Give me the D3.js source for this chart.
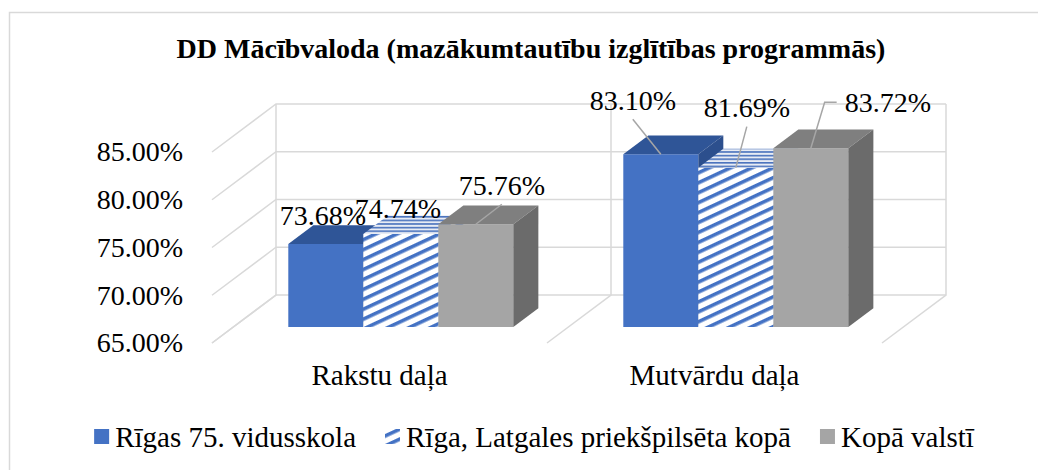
<!DOCTYPE html>
<html>
<head>
<meta charset="utf-8">
<script src="https://cdn.jsdelivr.net/npm/d3@7"></script>
<style>
  body { margin: 0; background: #fff; }
  svg { display: block; font-family: "Liberation Serif", "Times New Roman", serif; }
</style>
</head>
<body>
<div id="chart"></div>
<script>
// Data
const categories = ['Rakstu daļa', 'Mutvārdu daļa'];
const seriesNames = ['Rīgas 75. vidusskola', 'Rīga, Latgales priekšpilsēta kopā', 'Kopā valstī'];
const schoolValues = [73.68, 83.10];
const rigaValues = [74.74, 81.69];
const countryValues = [75.76, 83.72];
const tickValues = [65, 70, 75, 80, 85];
const title = 'DD Mācībvaloda (mazākumtautību izglītības programmās)';

// Chart dimensions
const WIDTH = 1038, HEIGHT = 470;
const DX = 64, DY = -48;           // depth vector of the 3D box
const D1 = 0.333, D2 = 0.724;      // bar front/back depth

// label placement (offset from bar top front centre) and leader line style
const labelOffsets = [
  [[-3, -29], [-3, -26], [26, -39]],
  [[-28, -54], [11, -60], [77, -46]]
];
const leaders = [
  ['none', 'none', 'bottom'],
  ['bottom', 'bottom', 'left']
];

const series = [schoolValues, rigaValues, countryValues];

const svg = d3.select('#chart').append('svg')
  .attr('width', WIDTH)
  .attr('height', HEIGHT);

// patterns
const defs = svg.append('defs');
defs.append('pattern')
  .attr('id', 'stripes')
  .attr('patternUnits', 'userSpaceOnUse')
  .attr('width', 9).attr('height', 9)
  .attr('patternTransform', 'rotate(-25)')
  .call(p => {
    p.append('rect').attr('width', 9).attr('height', 9).attr('fill', '#fff');
    p.append('rect').attr('width', 9).attr('height', 3.6).attr('fill', '#4472C4');
  });
defs.append('pattern')
  .attr('id', 'stripesTop')
  .attr('patternUnits', 'userSpaceOnUse')
  .attr('width', 8).attr('height', 3.6)
  .call(p => {
    p.append('rect').attr('width', 8).attr('height', 3.6).attr('fill', '#e8ecf4');
    p.append('rect').attr('width', 8).attr('height', 1.6).attr('fill', '#4a72bd');
  });

const fills = [
  { front: '#4472C4', top: '#2F5597', side: '#2C4F8D' },
  { front: 'url(#stripes)', top: 'url(#stripesTop)', side: 'url(#stripes)' },
  { front: '#A5A5A5', top: '#7F7F7F', side: '#6B6B6B' }
];

// outer border (right and bottom are cropped)
svg.append('rect')
  .attr('x', 9.5).attr('y', 12.5)
  .attr('width', WIDTH + 20).attr('height', HEIGHT + 20)
  .attr('fill', 'none')
  .attr('stroke', '#D9D9D9')
  .attr('stroke-width', 1.5);

// title
svg.append('text')
  .attr('x', 531).attr('y', 58)
  .attr('text-anchor', 'middle')
  .attr('font-size', 28)
  .attr('font-weight', 'bold')
  .text(title);

// scales
const y = d3.scaleLinear().domain([65, 85]).range([343, 152]);
const x0 = d3.scaleBand().domain(categories).range([212, 882]);
const x1 = d3.scaleBand().domain(d3.range(series.length))
  .range([0, x0.bandwidth()])
  .paddingInner(0)
  .paddingOuter(0.733);

const proj = (x, yy, d) => [x + d * DX, yy + d * DY];
const pts = arr => arr.map(p => p.join(',')).join(' ');

// gridlines
const grid = svg.append('g')
  .attr('stroke', '#D9D9D9')
  .attr('stroke-width', 1.5)
  .attr('fill', 'none');

const xLeft = x0.range()[0], xRight = x0.range()[1];
tickValues.forEach(v => {
  const a = proj(xLeft, y(v), 0), b = proj(xLeft, y(v), 1), c = proj(xRight, y(v), 1);
  grid.append('polyline').attr('points', pts([a, b, c]));
});
const bounds = categories.map(c => x0(c)).concat([xRight]);
bounds.forEach(bx => {
  const f = proj(bx, y(65), 0), b = proj(bx, y(65), 1), t = proj(bx, y(85), 1);
  grid.append('polyline').attr('points', pts([f, b, t]));
});

// bars
const bars = svg.append('g');
categories.forEach((cat, ci) => {
  series.forEach((vals, si) => {
    const v = vals[ci];
    const xa = x0(cat) + x1(si), xb = xa + x1.bandwidth();
    const yt = y(v), yb = y(65);
    const f = fills[si];
    bars.append('polygon')
      .attr('points', pts([proj(xa, yt, D1), proj(xb, yt, D1), proj(xb, yb, D1), proj(xa, yb, D1)]))
      .attr('fill', f.front);
    bars.append('polygon')
      .attr('points', pts([proj(xa, yt, D1), proj(xb, yt, D1), proj(xb, yt, D2), proj(xa, yt, D2)]))
      .attr('fill', f.top);
    bars.append('polygon')
      .attr('points', pts([proj(xb, yt, D1), proj(xb, yb, D1), proj(xb, yb, D2), proj(xb, yt, D2)]))
      .attr('fill', f.side);
  });
});

// data labels
const labels = svg.append('g').attr('font-size', 28);
categories.forEach((cat, ci) => {
  series.forEach((vals, si) => {
    const v = vals[ci];
    const xc = x0(cat) + x1(si) + x1.bandwidth() / 2;
    const anchor = proj(xc, y(v), D1);
    const off = labelOffsets[ci][si];
    const lx = anchor[0] + off[0], ly = anchor[1] + off[1];
    const t = labels.append('text')
      .attr('x', lx).attr('y', ly)
      .attr('dy', '0.35em')
      .attr('text-anchor', 'middle')
      .attr('fill', '#000')
      .text(v.toFixed(2) + '%');
    const kind = leaders[ci][si];
    if (kind === 'bottom') {
      labels.append('line')
        .attr('x1', anchor[0]).attr('y1', anchor[1])
        .attr('x2', lx).attr('y2', ly + 19)
        .attr('stroke', '#A6A6A6').attr('stroke-width', 1.5);
    } else if (kind === 'left') {
      const left = lx - t.node().getComputedTextLength() / 2;
      labels.append('polyline')
        .attr('points', pts([anchor, [left - 20, ly], [left - 8, ly]]))
        .attr('fill', 'none')
        .attr('stroke', '#A6A6A6').attr('stroke-width', 1.5);
    }
  });
});

// axes
const yAxis = svg.append('g')
  .attr('transform', `translate(${xLeft},0)`)
  .call(d3.axisLeft(y).tickValues(tickValues)
    .tickFormat(d => d.toFixed(2) + '%')
    .tickSize(0).tickPadding(29));
yAxis.select('.domain').remove();
yAxis.selectAll('text')
  .attr('font-family', 'Liberation Serif')
  .attr('font-size', 28)
  .attr('fill', '#000');

const xAxis = svg.append('g')
  .attr('transform', `translate(0,${y(65)})`)
  .call(d3.axisBottom(x0).tickSize(0).tickPadding(21));
xAxis.select('.domain').remove();
xAxis.selectAll('text')
  .attr('font-family', 'Liberation Serif')
  .attr('font-size', 29)
  .attr('fill', '#000');

// legend
const legend = svg.append('g').attr('font-size', 29);
const items = seriesNames.map((name, i) => {
  const g = legend.append('g');
  g.append('rect')
    .attr('width', 15).attr('height', 15)
    .attr('y', -15)
    .attr('fill', i === 1 ? 'url(#stripes)' : fills[i].front);
  const t = g.append('text')
    .attr('x', 21).attr('y', 0)
    .attr('dy', '0.1em')
    .attr('fill', '#000')
    .text(name);
  return { g, w: 21 + t.node().getComputedTextLength() };
});
const gap = 29;
const total = d3.sum(items, d => d.w) + gap * (items.length - 1);
let lx = 534 - total / 2;
items.forEach(it => {
  it.g.attr('transform', `translate(${lx},444)`);
  lx += it.w + gap;
});
</script>
</body>
</html>
